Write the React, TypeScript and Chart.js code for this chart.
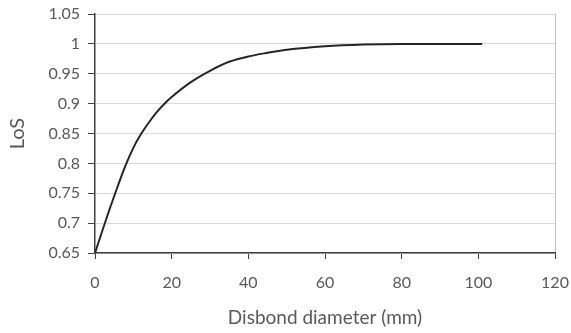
import React, { useEffect, useRef } from "react";
import { Chart, registerables } from "chart.js";

Chart.register(...registerables);

const diameters = [0, 2, 4, 6, 8, 10, 12, 14, 16, 18, 20, 25, 30, 35, 40, 45, 50, 60, 70, 80, 90, 101];
const losValues = [0.65, 0.689, 0.727, 0.763, 0.797, 0.826, 0.849, 0.868, 0.885, 0.899, 0.911, 0.936, 0.955, 0.97, 0.979, 0.985, 0.99, 0.996, 0.999, 1.0, 1.0, 1.0];
const xTicks = [0, 20, 40, 60, 80, 100, 120];
const yTicks = [0.65, 0.7, 0.75, 0.8, 0.85, 0.9, 0.95, 1, 1.05];
const xTitle = "Disbond diameter (mm)";
const yTitle = "LoS";

export default function App() {
  const ref = useRef<HTMLCanvasElement>(null);
  useEffect(() => {
    if (!ref.current) return;
    const font = "Lato";
    const textColor = "#595959";
    const chart = new Chart(ref.current, {
      type: "line",
      data: {
        datasets: [
          {
            data: diameters.map((d, i) => ({ x: d, y: losValues[i] })),
            borderColor: "#262626",
            borderWidth: 2,
            pointRadius: 0,
            cubicInterpolationMode: "monotone",
            fill: false,
          },
        ],
      },
      options: {
        animation: false,
        responsive: false,
        layout: { padding: 0 },
        plugins: { legend: { display: false }, tooltip: { enabled: false } },
        scales: {
          x: {
            type: "linear",
            min: 0,
            max: 120,
            afterBuildTicks: (s: any) => {
              s.ticks = xTicks.map((v) => ({ value: v }));
            },
            afterFit: (s: any) => {
              s.height = 80;
              s.paddingRight = 16;
              s.paddingLeft = 0;
            },
            ticks: {
              color: textColor,
              font: { family: font, size: 16 },
              padding: 14,
              callback: (v: any) => String(v),
            },
            grid: {
              color: (c: any) => (c.tick && c.tick.value === 120 ? "#bfbfbf" : "rgba(0,0,0,0)"),
              tickColor: "#404040",
              tickLength: 6,
              lineWidth: 1,
            },
            border: { color: "#404040", width: 1.5 },
            title: {
              display: true,
              text: xTitle,
              color: textColor,
              font: { family: font, size: 19 },
              padding: { top: 0, bottom: 4 },
            },
          },
          y: {
            type: "linear",
            min: 0.65,
            max: 1.05,
            afterBuildTicks: (s: any) => {
              s.ticks = yTicks.map((v) => ({ value: v }));
            },
            afterFit: (s: any) => {
              s.width = 95;
              s.paddingTop = 14;
              s.paddingBottom = 0;
            },
            ticks: {
              color: textColor,
              font: { family: font, size: 16 },
              padding: 8,
              callback: (v: any) => String(Number(Number(v).toFixed(2))),
            },
            grid: {
              color: "#d9d9d9",
              tickColor: "#404040",
              tickLength: 7,
              lineWidth: 1,
            },
            border: { color: "#404040", width: 1.5 },
            title: {
              display: true,
              text: yTitle,
              color: textColor,
              font: { family: font, size: 20 },
              padding: { top: 6, bottom: 0 },
            },
          },
        },
      },
    } as any);
    return () => chart.destroy();
  }, []);
  return (
    <div style={{ position: "absolute", left: 0, top: 0, width: 571, height: 333, background: "#fff" }}>
      <canvas ref={ref} width={571} height={333} />
    </div>
  );
}
